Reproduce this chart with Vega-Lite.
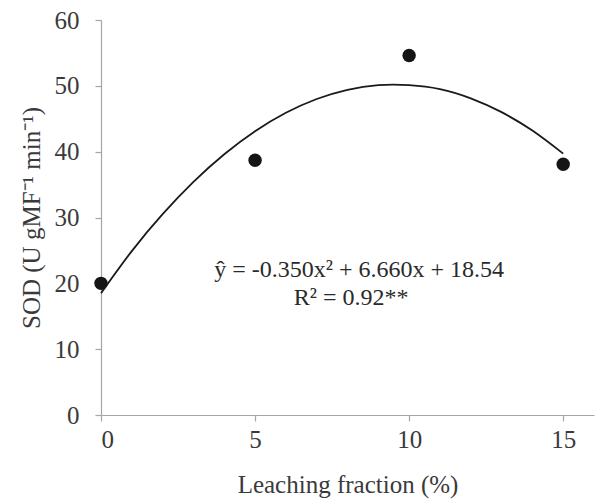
{
  "$schema": "https://vega.github.io/schema/vega-lite/v6.json",
  "width": 493,
  "height": 395,
  "autosize": {"type": "none"},
  "padding": {"left": 101, "top": 20, "right": 6, "bottom": 86},
  "background": "white",
  "config": {
    "view": {"stroke": null},
    "font": "Liberation Serif",
    "axis": {
      "grid": false,
      "domainColor": "#a6a6a6",
      "tickColor": "#a6a6a6",
      "domainWidth": 1.2,
      "tickWidth": 1.2,
      "labelFont": "Liberation Serif",
      "titleFont": "Liberation Serif",
      "labelFontSize": 25,
      "titleFontSize": 25,
      "labelColor": "#3a3a3a",
      "titleColor": "#3a3a3a",
      "titleFontWeight": "normal"
    }
  },
  "datasets": {
    "obs": [
      {"x": 0, "y": 20.0},
      {"x": 5, "y": 38.7},
      {"x": 10, "y": 54.6},
      {"x": 15, "y": 38.1}
    ],
    "fit": [
      {"x": 0, "y": 18.5},
      {"x": 1, "y": 24.9},
      {"x": 2, "y": 30.5},
      {"x": 3, "y": 35.4},
      {"x": 4, "y": 39.6},
      {"x": 5, "y": 43.1},
      {"x": 6, "y": 45.9},
      {"x": 7, "y": 48.0},
      {"x": 8, "y": 49.4},
      {"x": 9, "y": 50.1},
      {"x": 10, "y": 50.1},
      {"x": 11, "y": 49.5},
      {"x": 12, "y": 48.1},
      {"x": 13, "y": 46.0},
      {"x": 14, "y": 43.2},
      {"x": 15, "y": 39.7}
    ],
    "notes": [
      {"x": 8.38, "y": 22.0, "label": "ŷ = -0.350x² + 6.660x + 18.54"},
      {"x": 8.12, "y": 17.8, "label": "R² = 0.92**"}
    ]
  },
  "layer": [
    {
      "data": {"name": "fit"},
      "mark": {"type": "line", "interpolate": "natural", "color": "#1a1a1a", "strokeWidth": 1.8},
      "encoding": {
        "x": {
          "field": "x", "type": "quantitative",
          "scale": {"domain": [0, 16], "nice": false},
          "axis": {"values": [0, 5, 10, 15], "title": "Leaching fraction (%)", "titlePadding": 20, "labelPadding": 6, "tickSize": 6}
        },
        "y": {
          "field": "y", "type": "quantitative",
          "scale": {"domain": [0, 60], "nice": false},
          "axis": {"values": [0, 10, 20, 30, 40, 50, 60], "title": "SOD (U gMF⁻¹ min⁻¹)", "titlePadding": 10, "labelPadding": 16, "tickSize": 6}
        }
      }
    },
    {
      "data": {"name": "obs"},
      "mark": {"type": "circle", "size": 180, "color": "#151515", "opacity": 1},
      "encoding": {
        "x": {"field": "x", "type": "quantitative"},
        "y": {"field": "y", "type": "quantitative"}
      }
    },
    {
      "data": {"name": "notes"},
      "mark": {"type": "text", "font": "Liberation Serif", "fontSize": 24, "color": "#2a2a2a", "align": "center", "baseline": "middle"},
      "encoding": {
        "x": {"field": "x", "type": "quantitative"},
        "y": {"field": "y", "type": "quantitative"},
        "text": {"field": "label"}
      }
    }
  ]
}
